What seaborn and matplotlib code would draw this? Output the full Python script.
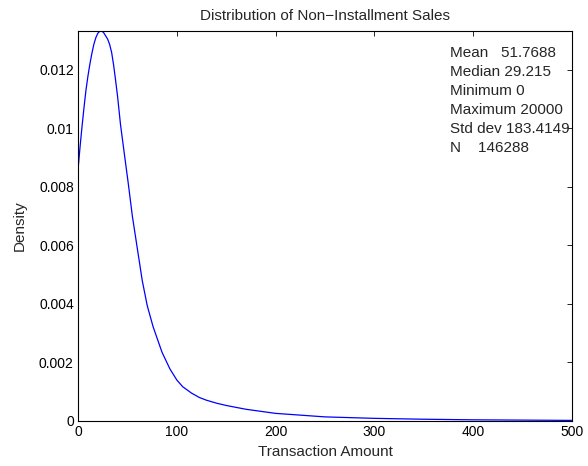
import matplotlib
matplotlib.use("Agg")
import matplotlib.pyplot as plt
import seaborn as sns
import pandas as pd
from matplotlib.ticker import FuncFormatter

# Valores lidos da curva de densidade (estimados do gráfico)
amount = [0, 2, 4, 6, 8, 10, 12, 14, 16, 18, 20, 22, 24, 26, 28, 30, 32, 34, 36,
          38, 40, 43, 47, 51, 55, 60, 65, 70, 76, 85, 93, 100, 106, 115, 123,
          130, 140, 150, 170, 200, 250, 300, 350, 400, 450, 500]
density = [0.00859, 0.00935, 0.01005, 0.01070, 0.01130, 0.01178, 0.01220,
           0.01256, 0.01287, 0.01310, 0.01325, 0.01332, 0.01333, 0.01327,
           0.01316, 0.01305, 0.01287, 0.01260, 0.01217, 0.01165, 0.01110,
           0.01013, 0.00910, 0.00808, 0.00700, 0.00590, 0.00480, 0.00395,
           0.00322, 0.00235, 0.00178, 0.00140, 0.00117, 0.00095, 0.00080,
           0.00071, 0.00061, 0.00053, 0.00040, 0.00026, 0.00014, 0.00009,
           0.00006, 0.00004, 0.00003, 0.00002]

x_ticks = [0, 100, 200, 300, 400, 500]
y_ticks = [0, 0.002, 0.004, 0.006, 0.008, 0.01, 0.012]

stat_lines = ["Mean   51.7688", "Median 29.215", "Minimum 0",
              "Maximum 20000", "Std dev 183.4149", "N    146288"]

sns.set_style("white")
plt.rcParams['font.family'] = ['Liberation Sans', 'DejaVu Sans']
plt.rcParams['font.size'] = 10

df = pd.DataFrame({'Transaction Amount': amount, 'Density': density})

fig = plt.figure(figsize=(5.88, 4.66), dpi=100)
ax = fig.add_axes([0.1327, 0.0966, 0.8401, 0.8369])

sns.lineplot(data=df, x='Transaction Amount', y='Density', color='#0000FF',
             linewidth=0.9, ax=ax)

ax.set_xlim(0, 500)
ax.set_ylim(0, max(density))
ax.set_xticks(x_ticks)
ax.set_yticks(y_ticks)
ax.yaxis.set_major_formatter(FuncFormatter(lambda v, p: '%g' % v))
ax.tick_params(direction='in', length=3.5, width=0.6, top=True, right=True,
               labelsize=10, colors='black', pad=3)
for sp in ax.spines.values():
    sp.set_visible(True)
    sp.set_color('black')
    sp.set_linewidth(0.8)

ax.set_title('Distribution of Non\u2212Installment Sales', fontsize=11, pad=8)
ax.set_xlabel('Transaction Amount', fontsize=11, labelpad=4)
ax.set_ylabel('Density', fontsize=11, labelpad=9)

# Caixa de estatísticas (texto sem borda)
for i, line in enumerate(stat_lines):
    fig.text(450 / 588, 1 - (57.3 + i * 18.9) / 466, line, fontsize=11,
             va='baseline', ha='left')

fig.savefig('out.png', dpi=100)
